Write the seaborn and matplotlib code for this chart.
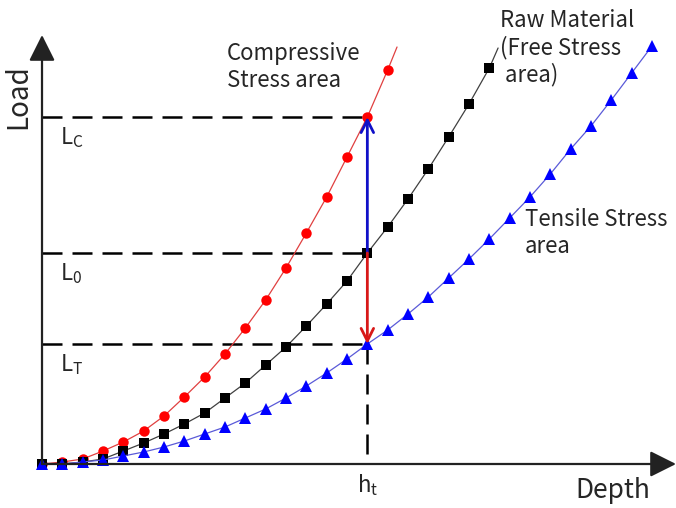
import matplotlib
matplotlib.use("Agg")
import matplotlib.pyplot as plt
import numpy as np
import pandas as pd
import seaborn as sns

# Load values (depth steps are evenly spaced samples)
load_comp = [0, 0.2, 0.5, 1.3, 2.2, 3.3, 4.8, 6.7, 8.7, 11.0, 13.6, 16.4, 19.6, 23.1,
             26.7, 30.7, 34.7, 39.4]
load_raw = [0, 0, 0.2, 0.5, 1.3, 2.1, 3.0, 4.0, 5.1, 6.6, 8.1, 9.9, 11.7, 13.8, 16.0,
            18.3, 21.1, 23.7, 26.5, 29.5, 32.7, 36.0, 39.6]
load_tens = [0, 0, 0.2, 0.4, 0.8, 1.2, 1.7, 2.3, 3.0, 3.7, 4.6, 5.5, 6.6, 7.8, 9.1, 10.5,
             12.0, 13.4, 15.0, 16.7, 18.6, 20.5, 22.5, 24.6, 26.7, 29.0, 31.5, 33.8, 36.4,
             39.1, 41.8]
# where the thin lines run on past the last marker
tail_comp = (17.46, 41.7)
tail_raw = (22.43, 41.6)

h_t = 16
L_C, L_0, L_T = 34.7, 21.1, 12.0

sns.set_style("white")
plt.rcParams["font.family"] = ["Noto Sans CJK KR", "DejaVu Sans"]

fig = plt.figure(figsize=(6.76, 5.08), dpi=100)
ax = fig.add_axes([0, 0, 1, 1])
ax.set_xlim(-2.066, 31.18)
ax.set_ylim(-4.4, 46.4)
ax.axis("off")


def curve(loads, tail):
    d = pd.DataFrame({"depth": np.arange(len(loads)), "load": loads})
    if tail is not None:
        d = pd.concat([d, pd.DataFrame({"depth": [tail[0]], "load": [tail[1]]})],
                      ignore_index=True)
    return d


styles = [
    (curve(load_comp, tail_comp), "o", "#ff0000", "#e04040", 7.5, True),
    (curve(load_raw, tail_raw), "s", "#000000", "#404040", 6.5, True),
    (curve(load_tens, None), "^", "#0000ff", "#5a5ad8", 8.5, False),
]
for d, mk, mcol, lcol, ms, has_tail in styles:
    sns.lineplot(data=d, x="depth", y="load", sort=False, estimator=None, ax=ax,
                 color=lcol, linewidth=0.9, marker=mk, markersize=ms,
                 markerfacecolor=mcol, markeredgecolor=mcol, markeredgewidth=0,
                 markevery=slice(0, len(d) - 1) if has_tail else None, zorder=3)

# dashed guide lines
dash = dict(color="black", lw=1.8, ls=(0, (8, 4)), zorder=2)
for L in [L_C, L_0, L_T]:
    ax.plot([0, h_t], [L, L], **dash)
ax.plot([h_t, h_t], [L_T, 0], **dash)

# axes with filled arrow heads
axis_arrow = dict(arrowstyle="-|>,head_length=1.6,head_width=0.8", lw=1.6,
                  color="#222222", shrinkA=0, shrinkB=0)
ax.annotate("", xy=(31.18, 0), xytext=(0, 0), arrowprops=axis_arrow, zorder=4)
ax.annotate("", xy=(0, 42.9), xytext=(0, 0), arrowprops=axis_arrow, zorder=4)

# shift arrows at h_t
ax.annotate("", xy=(h_t, L_C), xytext=(h_t, L_0),
            arrowprops=dict(arrowstyle="->,head_length=0.9,head_width=0.45", lw=2,
                            color="#1010c8", shrinkA=0, shrinkB=0), zorder=5)
ax.annotate("", xy=(h_t, L_T), xytext=(h_t, L_0),
            arrowprops=dict(arrowstyle="->,head_length=0.9,head_width=0.45", lw=2,
                            color="#d81818", shrinkA=0, shrinkB=0), zorder=5)

# labels
tr = ax.transAxes
ax.text(18 / 676, 1 - 97 / 508, "Load", rotation=90, ha="center", va="center",
        fontsize=20, transform=tr)
ax.text(613 / 676, 1 - 491 / 508, "Depth", ha="center", va="center", fontsize=19,
        transform=tr)
ax.text(227 / 676, 1 - 42 / 508, "Compressive\nStress area", ha="left", va="top",
        fontsize=16, linespacing=1.2, transform=tr)
ax.text(500 / 676, 1 - 9 / 508, "Raw Material\n(Free Stress\n area)", ha="left",
        va="top", fontsize=16, linespacing=1.2, transform=tr)
ax.text(525 / 676, 1 - 208 / 508, "Tensile Stress\narea", ha="left", va="top",
        fontsize=16, linespacing=1.2, transform=tr)

for lab, L in [("C", L_C), ("0", L_0), ("T", L_T)]:
    ax.text(0.9, L - 0.8, r"$\mathregular{L_{%s}}$" % lab, ha="left", va="top",
            fontsize=16)
ax.text(h_t, -0.8, r"$\mathregular{h_t}$", ha="center", va="top", fontsize=16)

fig.savefig("out.png", dpi=100)
